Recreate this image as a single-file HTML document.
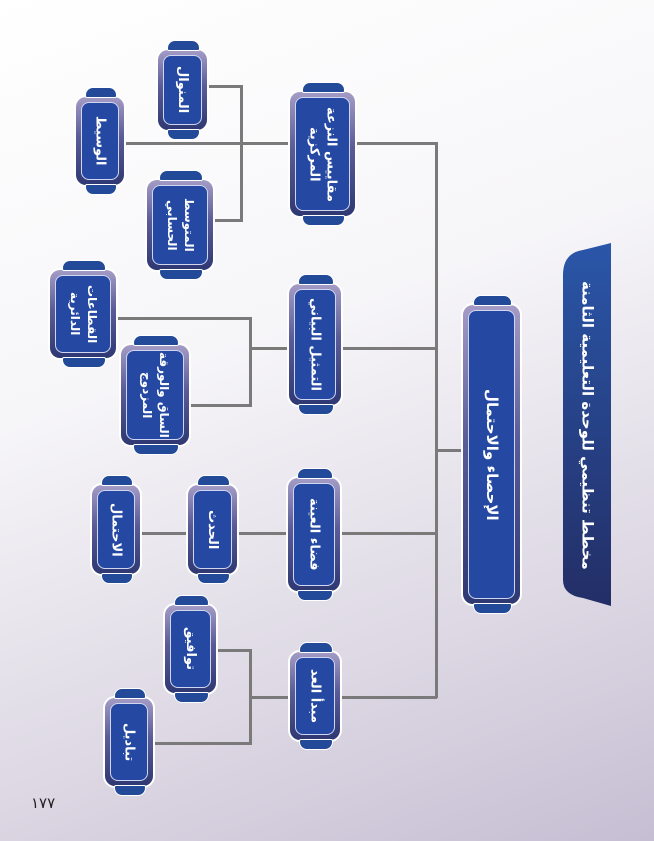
<!DOCTYPE html>
<html><head><meta charset="utf-8">
<style>
*{margin:0;padding:0;box-sizing:border-box}
body{width:654px;height:841px;position:relative;overflow:hidden;
background:linear-gradient(160deg,#ffffff 0%,#f6f5f8 40%,#dcd7e3 75%,#c6bed3 100%);
font-family:"Liberation Sans","DejaVu Sans",sans-serif}
.l{position:absolute;background:#7a7a7a}
.h{height:3px}.v{width:3px}
.n{position:absolute;border-radius:10px;padding:5px;
background:linear-gradient(180deg,#a49cc6 0%,#5a5c98 45%,#2e3872 100%);
box-shadow:0 0 0 2px #fff}
.n::before,.n::after{content:"";position:absolute;left:18%;width:64%;height:9px;background:#234a98;border:1.5px solid #fff}
.n::before{top:-10px;border-radius:8px 8px 2px 2px}
.n::after{bottom:-10px;border-radius:2px 2px 8px 8px}
.in{width:100%;height:100%;background:#2549a2;border:1.5px solid #cfd6f2;border-radius:8px;
display:flex;align-items:center;justify-content:center}
.t{writing-mode:vertical-rl;color:#fff;font-weight:bold;font-size:13px;line-height:17px;text-align:center;
font-family:"DejaVu Sans","Liberation Sans",sans-serif;white-space:nowrap}
</style></head><body>

<!-- title banner -->
<svg style="position:absolute;left:0;top:0" width="654" height="841">
<defs><linearGradient id="g" x1="0" y1="0" x2="0" y2="1"><stop offset="0" stop-color="#2a56a8"/><stop offset="1" stop-color="#232e66"/></linearGradient></defs>
<path d="M563,275 Q563,253 583,250 L611,243 L611,606 L583,598 Q563,595 563,580 Z" fill="url(#g)"/>
</svg>
<div style="position:absolute;left:563px;top:250px;width:48px;height:350px;display:flex;align-items:center;justify-content:center">
<div class="t" style="font-size:15px">مخطط تنظيمي للوحدة التعليمية الثامنة</div></div>

<!-- lines -->
<div class="l v" style="left:435px;top:142px;height:556px"></div>
<div class="l h" style="left:436px;top:449px;width:28px"></div>
<div class="l h" style="left:355px;top:142px;width:82px"></div>
<div class="l h" style="left:341px;top:347px;width:96px"></div>
<div class="l h" style="left:340px;top:532px;width:97px"></div>
<div class="l h" style="left:340px;top:696px;width:97px"></div>

<div class="l h" style="left:124px;top:142px;width:166px"></div>
<div class="l v" style="left:240px;top:85px;height:137px"></div>
<div class="l h" style="left:207px;top:85px;width:35px"></div>
<div class="l h" style="left:213px;top:219px;width:29px"></div>

<div class="l h" style="left:250px;top:347px;width:40px"></div>
<div class="l v" style="left:249px;top:317px;height:90px"></div>
<div class="l h" style="left:116px;top:317px;width:135px"></div>
<div class="l h" style="left:189px;top:404px;width:62px"></div>

<div class="l h" style="left:140px;top:532px;width:48px"></div>
<div class="l h" style="left:237px;top:532px;width:52px"></div>

<div class="l h" style="left:250px;top:696px;width:40px"></div>
<div class="l v" style="left:249px;top:649px;height:96px"></div>
<div class="l h" style="left:216px;top:649px;width:35px"></div>
<div class="l h" style="left:153px;top:742px;width:98px"></div>

<!-- root -->
<div class="n" style="left:463px;top:305px;width:57px;height:299px"><div class="in"><div class="t" style="font-size:15px">الإحصاء والاحتمال</div></div></div>

<!-- level 1 -->
<div class="n" style="left:290px;top:92px;width:65px;height:124px"><div class="in"><div class="t">مقاييس النزعة<br>المركزية</div></div></div>
<div class="n" style="left:289px;top:284px;width:52px;height:121px"><div class="in"><div class="t">التمثيل البياني</div></div></div>
<div class="n" style="left:288px;top:478px;width:52px;height:113px"><div class="in"><div class="t">فضاء العينة</div></div></div>
<div class="n" style="left:290px;top:652px;width:50px;height:88px"><div class="in"><div class="t">مبدأ العد</div></div></div>

<!-- level 2 -->
<div class="n" style="left:158px;top:50px;width:49px;height:80px"><div class="in"><div class="t">المنوال</div></div></div>
<div class="n" style="left:76px;top:97px;width:48px;height:88px"><div class="in"><div class="t">الوسيط</div></div></div>
<div class="n" style="left:147px;top:180px;width:66px;height:90px"><div class="in"><div class="t" style="font-size:12px">المتوسط<br>الحسابي</div></div></div>
<div class="n" style="left:50px;top:270px;width:66px;height:88px"><div class="in"><div class="t" style="font-size:12px">القطاعات<br>الدائرية</div></div></div>
<div class="n" style="left:121px;top:345px;width:68px;height:100px"><div class="in"><div class="t" style="font-size:12px">الساق والورقة<br>المزدوج</div></div></div>
<div class="n" style="left:188px;top:485px;width:49px;height:89px"><div class="in"><div class="t">الحدث</div></div></div>
<div class="n" style="left:92px;top:485px;width:48px;height:89px"><div class="in"><div class="t">الاحتمال</div></div></div>
<div class="n" style="left:165px;top:605px;width:51px;height:88px"><div class="in"><div class="t">توافيق</div></div></div>
<div class="n" style="left:105px;top:698px;width:48px;height:88px"><div class="in"><div class="t">تباديل</div></div></div>

<div style="position:absolute;left:31px;top:794px;font-size:15px;color:#222;font-family:'DejaVu Sans',sans-serif">١٧٧</div>
</body></html>
